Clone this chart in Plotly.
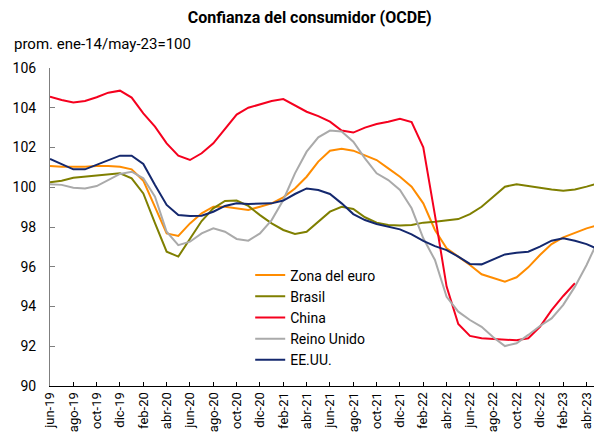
import plotly.graph_objects as go

months = ["jun-19","jul-19","ago-19","sep-19","oct-19","nov-19","dic-19","ene-20","feb-20","mar-20","abr-20","may-20",
          "jun-20","jul-20","ago-20","sep-20","oct-20","nov-20","dic-20","ene-21","feb-21","mar-21","abr-21","may-21",
          "jun-21","jul-21","ago-21","sep-21","oct-21","nov-21","dic-21","ene-22","feb-22","mar-22","abr-22","may-22",
          "jun-22","jul-22","ago-22","sep-22","oct-22","nov-22","dic-22","ene-23","feb-23","mar-23","abr-23","may-23"]
tick_labels = months[::2]

euro = [101.07,101.03,101.03,101.03,101.07,101.07,101.03,100.90,100.33,99.02,97.68,97.55,
        98.18,98.69,99.02,99.02,98.94,98.86,99.02,99.19,99.49,99.94,100.53,101.29,
        101.84,101.94,101.84,101.62,101.37,100.95,100.53,100.03,99.19,97.85,96.93,96.51,
        96.09,95.62,95.42,95.25,95.47,95.97,96.59,97.14,97.48,97.71,97.93,98.10]
brasil = [100.25,100.33,100.48,100.53,100.58,100.65,100.70,100.45,99.69,98.2,96.76,96.51,
          97.43,98.3,98.94,99.31,99.33,99.06,98.60,98.18,97.85,97.65,97.76,98.27,
          98.77,99.02,98.91,98.49,98.22,98.10,98.07,98.10,98.22,98.27,98.35,98.40,
          98.65,99.02,99.52,100.03,100.15,100.06,100.0,99.89,99.83,99.89,100.03,100.20]
china = [104.56,104.39,104.27,104.34,104.53,104.76,104.86,104.51,103.72,103.05,102.21,101.59,
         101.37,101.71,102.21,102.96,103.66,104.0,104.17,104.34,104.44,104.14,103.80,103.58,
         103.30,102.85,102.75,103.0,103.18,103.30,103.45,103.28,102.01,98.6,95.0,93.12,
         92.52,92.40,92.36,92.35,92.30,92.40,92.98,93.82,94.53,95.17,None,None]
reino = [100.15,100.12,99.98,99.94,100.06,100.36,100.67,100.78,100.45,99.52,97.76,97.09,
         97.26,97.68,97.93,97.76,97.40,97.31,97.68,98.35,99.36,100.70,101.79,102.51,
         102.85,102.81,102.29,101.45,100.70,100.36,99.86,98.94,97.43,96.34,94.49,93.74,
         93.32,92.98,92.45,92.01,92.15,92.57,93.02,93.40,94.08,95.0,96.09,97.35]
eeuu = [101.42,101.17,100.90,100.90,101.12,101.37,101.59,101.59,101.17,100.11,99.11,98.60,
        98.55,98.57,98.77,99.06,99.19,99.16,99.16,99.19,99.33,99.66,99.94,99.86,
        99.66,99.19,98.65,98.35,98.15,98.02,97.88,97.63,97.30,97.04,96.84,96.51,
        96.14,96.12,96.37,96.62,96.71,96.76,97.01,97.31,97.43,97.31,97.14,96.88]

series = [("Zona del euro", euro, "#FF8C00"),
          ("Brasil", brasil, "#7F7F00"),
          ("China", china, "#F5001E"),
          ("Reino Unido", reino, "#AAAAAA"),
          ("EE.UU.", eeuu, "#14286E")]

fig = go.Figure()
for name, vals, col in series:
    fig.add_trace(go.Scatter(x=months, y=vals, name=name, mode="lines",
                             line=dict(color=col, width=2)))

fig.update_layout(
    width=594, height=428,
    margin=dict(l=42, r=2, t=60, b=50),
    paper_bgcolor="white", plot_bgcolor="white",
    font=dict(family="Roboto", size=15, color="#000000"),
    title=dict(text="<b>Confianza del consumidor (OCDE)</b>", x=0.508, xanchor="center",
               y=0.978, yanchor="middle", font=dict(size=16, family="Roboto", color="#000")),
    showlegend=True,
    legend=dict(x=0.364, y=0.398, xanchor="left", yanchor="top", bgcolor="rgba(0,0,0,0)",
                font=dict(size=14), tracegroupgap=0),
    annotations=[dict(text="prom. ene-14/may-23=100", xref="paper", yref="paper",
                      x=-0.069, y=1.0755, xanchor="left", yanchor="middle",
                      showarrow=False, font=dict(size=15))],
)
fig.update_xaxes(type="category", range=[0, 47.15], tickvals=tick_labels, ticktext=tick_labels,
                 tickangle=-90, ticks="inside", ticklen=4, tickcolor="#000", automargin=False,
                 showline=True, linecolor="#000", linewidth=1, showgrid=False, zeroline=False,
                 tickfont=dict(size=13))
fig.update_yaxes(range=[90, 106], dtick=2, ticks="inside", ticklen=5, tickcolor="#7f7f7f",
                 showline=True, linecolor="#7f7f7f", linewidth=1, showgrid=False, zeroline=False,
                 automargin=False, ticklabelstandoff=10, tickfont=dict(size=14))

fig.write_html("out.html")
